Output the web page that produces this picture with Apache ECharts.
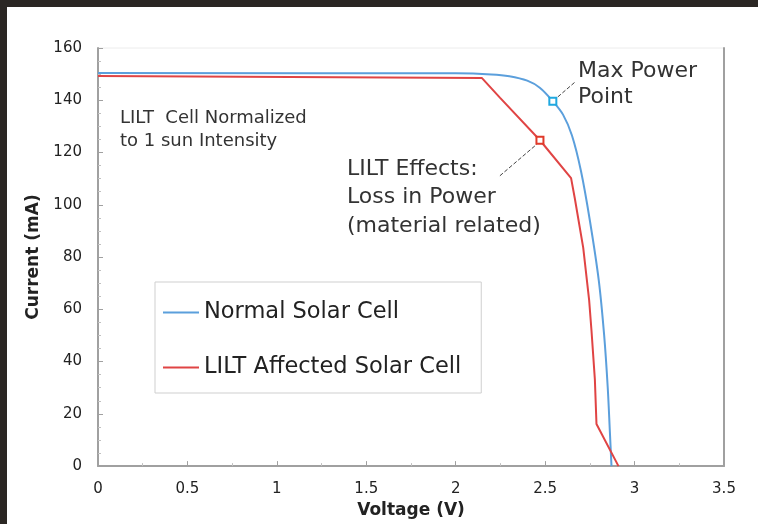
<!DOCTYPE html>
<html>
<head>
<meta charset="utf-8">
<script src="https://cdn.jsdelivr.net/npm/echarts@6/dist/echarts.min.js"></script>
<style>
html,body{margin:0;padding:0;background:#fff;}
#chart{width:758px;height:524px;}
</style>
</head>
<body>
<div id="chart"></div>
<script>
// ---- data ----
const seriesNames = ['Normal Solar Cell', 'LILT Affected Solar Cell'];
const normalCell = [[0,150.4],[2.0,150.3],[2.2,149.9],[2.3,149.2],[2.4,147.5],[2.47,144.8],[2.543,139.6],[2.6,134.5],[2.65,126.5],[2.7,113],[2.75,94],[2.8,71],[2.83,50],[2.85,30],[2.862,13],[2.871,0]];
const liltCell = [[0,149.3],[2.147,148.5],[2.247,141],[2.471,124.7],[2.645,110.2],[2.666,102.4],[2.713,83.5],[2.746,63.5],[2.759,52],[2.778,33.2],[2.787,16.1],[2.91,0]];
const maxPowerPoint = [2.543, 139.6];
const liltPoint = [2.471, 124.7];
const maxPowerLeader = [[2.571, 141.3], [2.666, 146.9]];
const liltLeader = [[2.247, 111.1], [2.454, 123.2]];
const xTicks = [0, 0.5, 1, 1.5, 2, 2.5, 3, 3.5];
const yTicks = [0, 20, 40, 60, 80, 100, 120, 140, 160];

const blue = '#5b9fdc';
const red = '#e04444';
const axisGray = '#a0a0a0';
const font = 'DejaVu Sans';

const chart = echarts.init(document.getElementById('chart'));
chart.setOption({
  backgroundColor: '#ffffff',
  animation: false,
  grid: { left: 98, right: 34, top: 48, bottom: 53, show: true, borderColor: '#ececec', borderWidth: 1 },
  legend: {
    orient: 'vertical', left: 155, top: 282,
    data: seriesNames,
    icon: 'rect', itemWidth: 36, itemHeight: 2, itemGap: 32,
    padding: [19, 20, 14, 8],
    borderColor: '#cfcfcf', borderWidth: 1,
    textStyle: { fontFamily: font, fontSize: 22.5, color: '#222' }
  },
  xAxis: {
    type: 'value', min: xTicks[0], max: xTicks[xTicks.length - 1], interval: 0.5,
    name: 'Voltage (V)', nameLocation: 'middle', nameGap: 30,
    nameTextStyle: { fontFamily: font, fontWeight: 'bold', fontSize: 17, color: '#222' },
    axisLine: { show: true, lineStyle: { color: axisGray, width: 2 } },
    axisTick: { show: true, inside: true, length: 5, lineStyle: { color: axisGray } },
    minorTick: { show: true, splitNumber: 2, length: 3, lineStyle: { color: '#c0c0c0' } },
    splitLine: { show: false },
    axisLabel: { fontFamily: font, fontSize: 15, color: '#222', margin: 16 }
  },
  yAxis: [{
    type: 'value', min: yTicks[0], max: yTicks[yTicks.length - 1], interval: 20,
    name: 'Current (mA)', nameLocation: 'middle', nameGap: 55,
    nameTextStyle: { fontFamily: font, fontWeight: 'bold', fontSize: 17, color: '#222' },
    axisLine: { show: true, lineStyle: { color: axisGray, width: 2 } },
    axisTick: { show: true, inside: true, length: 5, lineStyle: { color: axisGray } },
    minorTick: { show: true, splitNumber: 4, length: 3, lineStyle: { color: '#c0c0c0' } },
    splitLine: { show: false },
    axisLabel: { fontFamily: font, fontSize: 15, color: '#222', margin: 16 }
  }, {
    type: 'value', position: 'right', min: yTicks[0], max: yTicks[yTicks.length - 1], interval: 20,
    axisLine: { show: true, lineStyle: { color: axisGray, width: 2 } },
    axisTick: { show: false }, axisLabel: { show: false }, splitLine: { show: false }
  }],
  series: [{
    name: seriesNames[0], type: 'line', data: normalCell,
    smooth: 0.35, showSymbol: false,
    lineStyle: { color: blue, width: 2 }, itemStyle: { color: blue },
    markPoint: {
      symbol: 'rect', symbolSize: 7, label: { show: false },
      itemStyle: { color: '#ffffff', borderColor: '#1fa8e0', borderWidth: 2 },
      data: [{ coord: maxPowerPoint }]
    },
    markLine: {
      symbol: 'none', silent: true, label: { show: false },
      lineStyle: { color: '#444', type: 'dashed', width: 1 },
      data: [[{ coord: maxPowerLeader[0] }, { coord: maxPowerLeader[1] }]]
    }
  }, {
    name: seriesNames[1], type: 'line', data: liltCell,
    showSymbol: false,
    lineStyle: { color: red, width: 2 }, itemStyle: { color: red },
    markPoint: {
      symbol: 'rect', symbolSize: 7, label: { show: false },
      itemStyle: { color: '#ffffff', borderColor: '#e03a2a', borderWidth: 2 },
      data: [{ coord: liltPoint }]
    },
    markLine: {
      symbol: 'none', silent: true, label: { show: false },
      lineStyle: { color: '#444', type: 'dashed', width: 1 },
      data: [[{ coord: liltLeader[0] }, { coord: liltLeader[1] }]]
    }
  }],
  graphic: [
    { type: 'rect', left: 0, top: 0, shape: { width: 758, height: 7 }, style: { fill: '#2b2724' }, z: 100 },
    { type: 'rect', left: 0, top: 0, shape: { width: 7, height: 524 }, style: { fill: '#2b2724' }, z: 100 },
    { type: 'text', left: 578, top: 58, style: { text: 'Max Power\nPoint', font: '22px "DejaVu Sans"', fill: '#333', lineHeight: 26 } },
    { type: 'text', left: 347, top: 155, style: { text: 'LILT Effects:\nLoss in Power\n(material related)', font: '22px "DejaVu Sans"', fill: '#333', lineHeight: 28.5 } },
    { type: 'text', left: 120, top: 107, style: { text: 'LILT  Cell Normalized\nto 1 sun Intensity', font: '18px "DejaVu Sans"', fill: '#333', lineHeight: 23 } }
  ]
});
</script>
</body>
</html>
